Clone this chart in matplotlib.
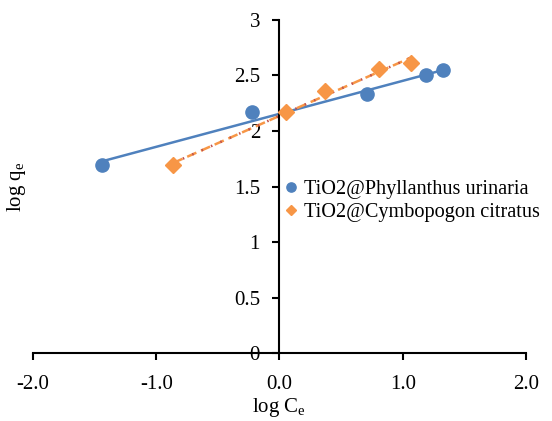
import matplotlib
matplotlib.use("Agg")
import matplotlib.pyplot as plt
import numpy as np

plt.rcParams["font.family"] = ["Liberation Serif", "DejaVu Serif"]
plt.rcParams["mathtext.fontset"] = "custom"
plt.rcParams["mathtext.rm"] = "Liberation Serif"
plt.rcParams["mathtext.it"] = "Liberation Serif"

# Data
pu_label = "TiO2@Phyllanthus urinaria"
pu_logce = [-1.44, -0.22, 0.71, 1.19, 1.33]
pu_logqe = [1.69, 2.17, 2.33, 2.50, 2.55]

cc_label = "TiO2@Cymbopogon citratus"
cc_logce = [-0.86, 0.05, 0.37, 0.81, 1.07]
cc_logqe = [1.69, 2.17, 2.36, 2.56, 2.61]

xticks = [-2.0, -1.0, 0.0, 1.0, 2.0]
yticks = [0, 0.5, 1, 1.5, 2, 2.5, 3]
ytick_labels = ["0", "0.5", "1", "1.5", "2", "2.5", "3"]

BLUE = "#4F81BD"
ORANGE = "#F79646"
RED = "#C0504D"
FS = 15

fig = plt.figure(figsize=(5.52, 4.21), dpi=100)
ax = fig.add_axes([0.0598, 0.1615, 0.893, 0.791])

# linear trendlines
p1 = np.polyfit(pu_logce, pu_logqe, 1)
x1 = np.array([min(pu_logce), max(pu_logce)])
ax.plot(x1, np.polyval(p1, x1), color=BLUE, lw=1.8, zorder=2)

p2 = np.polyfit(cc_logce, cc_logqe, 1)
x2 = np.array([min(cc_logce), max(cc_logce)])
ax.plot(x2, np.polyval(p2, x2), color=ORANGE, lw=1.8, ls=(0, (4, 2)), zorder=2)
ax.plot(x2, np.polyval(p2, x2), color=RED, lw=1.8, ls=(0, (0.6, 3.5)), zorder=2)

ax.plot(pu_logce, pu_logqe, "o", color=BLUE, ms=9.5, mec=BLUE, label=pu_label, zorder=3)
ax.plot(cc_logce, cc_logqe, "D", color=ORANGE, ms=8, mec=ORANGE, label=cc_label, zorder=3)

ax.set_xlim(-2, 2)
ax.set_ylim(0, 3)
ax.spines["left"].set_position(("data", 0))
ax.spines["bottom"].set_position(("data", 0))
ax.spines["top"].set_visible(False)
ax.spines["right"].set_visible(False)
for s in ("left", "bottom"):
    ax.spines[s].set_linewidth(1.5)
ax.set_xticks(xticks)
ax.set_xticklabels([f"{v:.1f}" for v in xticks])
ax.set_yticks(yticks)
ax.set_yticklabels(ytick_labels)
ax.tick_params(axis="x", direction="out", length=5, width=1.5, labelsize=FS, pad=11)
ax.tick_params(axis="y", direction="out", length=5, width=1.5, labelsize=FS, pad=9)

ax.set_xlabel("log C$_\\mathrm{e}$", fontsize=FS)
ax.xaxis.set_label_coords(0.5, -0.13)
ax.set_ylabel("log q$_\\mathrm{e}$", fontsize=FS)
ax.yaxis.set_label_coords(-0.01, 0.5)

ax.legend(loc="upper left", bbox_to_anchor=(0.495, 0.545), frameon=False,
          fontsize=14.6, handlelength=0.6, handletextpad=0.35, markerscale=0.7,
          labelspacing=0.2, borderaxespad=0)

fig.savefig("out.png", dpi=100)
